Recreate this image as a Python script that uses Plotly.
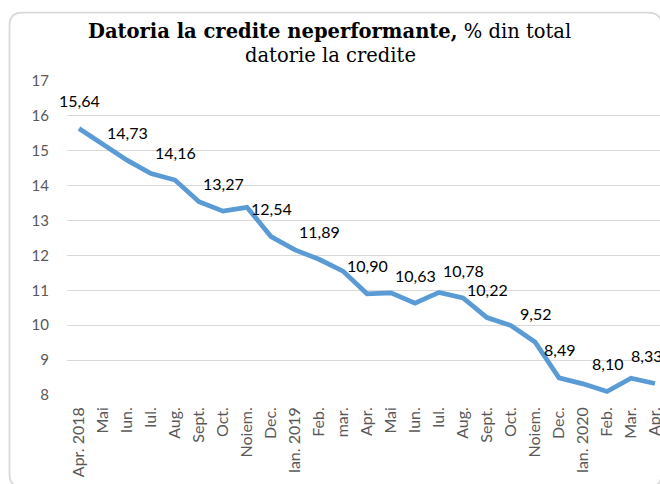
import plotly.graph_objects as go

# ---- data ----
months = ["Apr. 2018", "Mai", "Iun.", "Iul.", "Aug.", "Sept.", "Oct.", "Noiem.", "Dec.",
          "Ian. 2019", "Feb.", "mar.", "Apr.", "Mai", "Iun.", "Iul.", "Aug.", "Sept.", "Oct.",
          "Noiem.", "Dec.", "Ian. 2020", "Feb.", "Mar.", "Apr."]
npl_share = [15.64, 15.19, 14.73, 14.35, 14.16, 13.54, 13.27, 13.38, 12.54,
             12.16, 11.89, 11.55, 10.90, 10.93, 10.63, 10.94, 10.78, 10.22, 9.99,
             9.52, 8.49, 8.32, 8.10, 8.48, 8.33]
show_label = [1, 0, 1, 0, 1, 0, 1, 0, 1,
              0, 1, 0, 1, 0, 1, 0, 1, 1, 0,
              1, 1, 0, 1, 0, 1]
y_ticks = [8, 9, 10, 11, 12, 13, 14, 15, 16, 17]

x_idx = list(range(len(months)))

W, H = 660, 484
ML, MR, MT, MB = 67, 0, 81, 89
PW, PH = W - ML - MR, H - MT - MB
SPACING = 24.0
SERIF = "DejaVu Serif"


def px(xp):
    return (xp - ML) / PW


def py(yp):
    return (H - MB - yp) / PH


fig = go.Figure()
fig.add_trace(go.Scatter(
    x=x_idx, y=npl_share, mode="lines",
    line=dict(color="#5B9BD5", width=4.75),
    hoverinfo="skip", showlegend=False,
))

annotations = []
for i, (v, s) in enumerate(zip(npl_share, show_label)):
    if not s:
        continue
    annotations.append(dict(
        x=i, y=v, xref="x", yref="y", showarrow=False,
        text=f"{v:.2f}".replace(".", ","),
        yshift=28, xshift=(-9 if i == len(months) - 1 else 0),
        font=dict(family="Lato", size=16, color="#000000"),
        xanchor="center", yanchor="middle",
    ))

# title (two lines)
annotations.append(dict(
    x=px(329), y=py(31), xref="paper", yref="paper", showarrow=False,
    text="<b>Datoria la credite neperformante,</b> % din total",
    font=dict(family=SERIF, size=19.5, color="#000000"),
    xanchor="center", yanchor="middle",
))
annotations.append(dict(
    x=px(330), y=py(55), xref="paper", yref="paper", showarrow=False,
    text="datorie la credite",
    font=dict(family=SERIF, size=19.5, color="#000000"),
    xanchor="center", yanchor="middle",
))

# chart-area rounded border
L, T, R, B, r = 9.5, 12.5, 661.5, 487, 13
path = (f"M {px(L)},{py(T + r)} Q {px(L)},{py(T)} {px(L + r)},{py(T)} "
        f"L {px(R - r)},{py(T)} Q {px(R)},{py(T)} {px(R)},{py(T + r)} "
        f"L {px(R)},{py(B - r)} Q {px(R)},{py(B)} {px(R - r)},{py(B)} "
        f"L {px(L + r)},{py(B)} Q {px(L)},{py(B)} {px(L)},{py(B - r)} Z")

fig.update_layout(
    width=W, height=H,
    margin=dict(l=ML, r=MR, t=MT, b=MB, pad=0, autoexpand=False),
    paper_bgcolor="white", plot_bgcolor="white",
    annotations=annotations,
    shapes=[dict(type="path", path=path, xref="paper", yref="paper",
                 line=dict(color="#d9d9d9", width=1.75), layer="below")],
    xaxis=dict(
        range=[-0.5, -0.5 + PW / SPACING], automargin=False,
        tickmode="array", tickvals=x_idx, ticktext=months,
        tickangle=-90, showgrid=False, zeroline=False, showline=False,
        ticks="", ticklabelstandoff=8, ticklabeloverflow="allow",
        tickfont=dict(family="Lato", size=16, color="#595959"),
    ),
    yaxis=dict(
        range=[8, 17], tickmode="array", tickvals=y_ticks, automargin=False,
        showgrid=True, gridcolor="#d9d9d9", gridwidth=1.25,
        zeroline=False, showline=False, ticks="", ticklabelstandoff=17,
        tickfont=dict(family="Lato", size=15, color="#595959"),
    ),
)

fig.write_html("out.html",
               config={"displayModeBar": False},
               post_script="document.body.style.margin='0';document.body.style.overflow='hidden';")
